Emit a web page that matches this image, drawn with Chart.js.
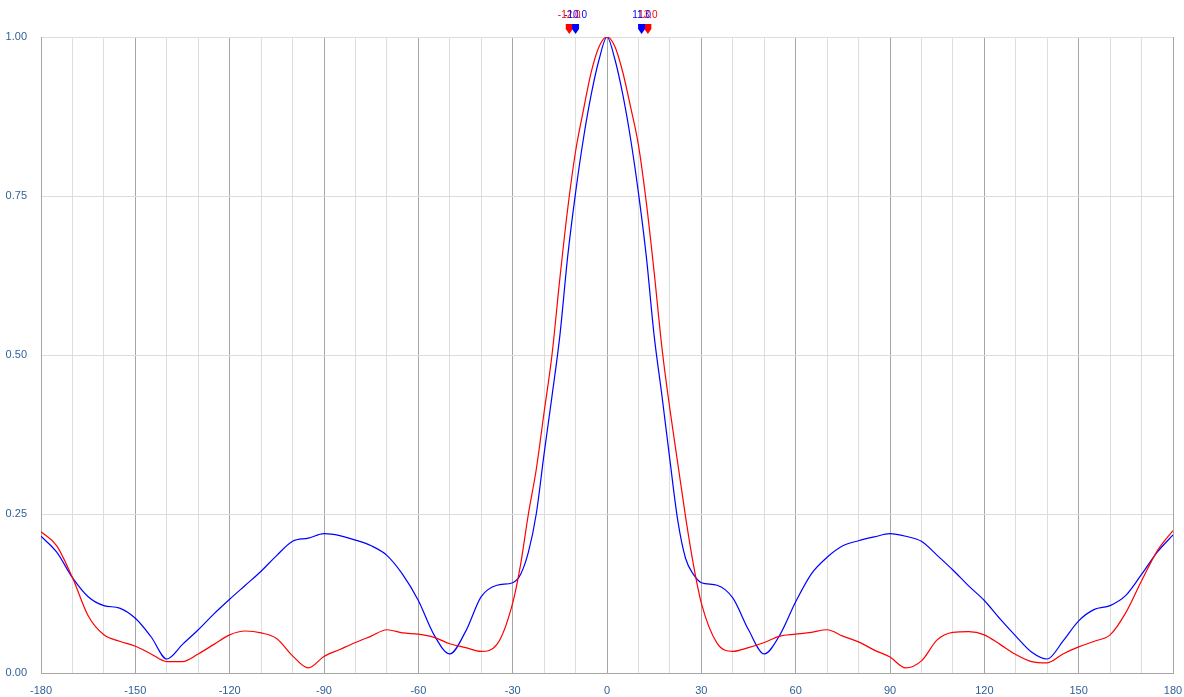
<!DOCTYPE html>
<html>
<head>
<meta charset="utf-8">
<script src="https://cdn.jsdelivr.net/npm/chart.js@4"></script>
<style>
  html, body { margin: 0; padding: 0; background: #fff; }
  #wrap { width: 1184px; height: 697px; }
</style>
</head>
<body>
<div id="wrap"><canvas id="beamChart" width="1184" height="697"></canvas></div>
<script>
// angles in degrees (finer step around the main lobe)
const angles = [
  -180, -175, -170, -165, -160, -155, -150, -145, -140, -135, -130, -125, -120, -115, -110, -105,
  -100, -95, -90, -85, -80, -75, -70, -65, -60, -55, -50, -45, -40, -35,
  -30, -27.5, -25, -22.5, -20, -17.5, -15, -12.5, -10, -7.5, -5, -2.5, 0,
  2.5, 5, 7.5, 10, 12.5, 15, 17.5, 20, 22.5, 25, 27.5, 30,
  35, 40, 45, 50, 55, 60, 65, 70, 75, 80, 85, 90, 95, 100,
  105, 110, 115, 120, 125, 130, 135, 140, 145, 150, 155, 160, 165, 170, 175, 180
];

const blueValues = [
  0.215, 0.190, 0.150, 0.120, 0.106, 0.102, 0.086, 0.057, 0.022, 0.045, 0.068, 0.093, 0.116, 0.138, 0.160, 0.185,
  0.207, 0.212, 0.219, 0.216, 0.209, 0.200, 0.185, 0.155, 0.114, 0.060, 0.030, 0.065, 0.120, 0.138,
  0.142, 0.155, 0.190, 0.250, 0.345, 0.435, 0.530, 0.655, 0.755, 0.840, 0.910, 0.965, 1.000,
  0.965, 0.910, 0.840, 0.755, 0.655, 0.530, 0.435, 0.335, 0.240, 0.180, 0.155, 0.142,
  0.138, 0.118, 0.068, 0.030, 0.060, 0.112, 0.156, 0.182, 0.200, 0.208, 0.214, 0.219, 0.215, 0.207,
  0.185, 0.162, 0.137, 0.114, 0.085, 0.058, 0.033, 0.022, 0.050, 0.082, 0.100, 0.106, 0.122, 0.155, 0.190, 0.217
];

const redValues = [
  0.222, 0.200, 0.150, 0.090, 0.060, 0.050, 0.042, 0.030, 0.018, 0.018, 0.030, 0.045, 0.060, 0.066, 0.063, 0.054,
  0.027, 0.008, 0.026, 0.037, 0.048, 0.058, 0.068, 0.063, 0.061, 0.056, 0.046, 0.040, 0.034, 0.045,
  0.110, 0.170, 0.250, 0.320, 0.410, 0.500, 0.620, 0.730, 0.820, 0.885, 0.945, 0.985, 1.000,
  0.985, 0.945, 0.890, 0.830, 0.740, 0.630, 0.510, 0.415, 0.330, 0.245, 0.170, 0.110,
  0.047, 0.034, 0.040, 0.048, 0.058, 0.061, 0.064, 0.068, 0.058, 0.049, 0.036, 0.025, 0.008, 0.019,
  0.052, 0.064, 0.065, 0.060, 0.045, 0.029, 0.018, 0.016, 0.030, 0.041, 0.050, 0.060, 0.095, 0.145, 0.192, 0.224
];

// beamwidth markers along the top edge
const blueMarkers = [-10, 11];
const redMarkers = [-12, 13];
const blueMarkerLabels = ['-10.0', '11.0'];
const redMarkerLabels = ['-12.0', '13.0'];

const yTicks = [0, 0.25, 0.5, 0.75, 1];

function toPoints(values) {
  return angles.map((a, i) => ({ x: a, y: values[i] }));
}

// draws the little pin markers and their labels above the plot
const markerPlugin = {
  id: 'markers',
  afterDraw(chart) {
    const ctx = chart.ctx;
    const xs = chart.scales.x;
    const top = chart.chartArea.top;
    const drawSet = (list, labels, color) => {
      list.forEach((v, i) => {
        const px = xs.getPixelForValue(v);
        ctx.save();
        ctx.fillStyle = color;
        ctx.beginPath();
        ctx.moveTo(px - 3.5, top - 13);
        ctx.lineTo(px + 3.5, top - 13);
        ctx.lineTo(px + 3.5, top - 8);
        ctx.lineTo(px, top - 3);
        ctx.lineTo(px - 3.5, top - 8);
        ctx.closePath();
        ctx.fill();
        ctx.font = '10px "Liberation Sans", Arial, sans-serif';
        ctx.textAlign = 'center';
        ctx.textBaseline = 'middle';
        ctx.fillText(labels[i], px, top - 22);
        ctx.restore();
      });
    };
    drawSet(redMarkers, redMarkerLabels, '#ff0000');
    drawSet(blueMarkers, blueMarkerLabels, '#0000ff');
  }
};

const ctx = document.getElementById('beamChart').getContext('2d');
new Chart(ctx, {
  type: 'line',
  data: {
    datasets: [{
      label: 'Red',
      data: toPoints(redValues),
      borderColor: '#ff0000',
      borderWidth: 1.2,
      pointRadius: 0,
      cubicInterpolationMode: 'monotone',
      fill: false
    }, {
      label: 'Blue',
      data: toPoints(blueValues),
      borderColor: '#0000ff',
      borderWidth: 1.2,
      pointRadius: 0,
      cubicInterpolationMode: 'monotone',
      fill: false
    }]
  },
  options: {
    responsive: false,
    animation: false,
    layout: { padding: { top: 37, right: 11, left: 0, bottom: 0 } },
    plugins: {
      legend: { display: false },
      tooltip: { enabled: false }
    },
    scales: {
      x: {
        type: 'linear',
        min: -180,
        max: 180,
        afterFit: (scale) => {
          scale.height = 24;
          scale.paddingLeft = 0;
          scale.paddingRight = 0;
        },
        ticks: {
          stepSize: 10,
          autoSkip: false,
          maxRotation: 0,
          padding: 11,
          color: '#2f5f9a',
          font: { family: '"Liberation Sans", Arial, sans-serif', size: 11 },
          callback: (v) => (v % 30 === 0 ? String(v) : '')
        },
        grid: {
          color: (c) => (c.tick && c.tick.value % 30 === 0 ? '#a6a6a6' : '#dedede'),
          lineWidth: 1,
          drawTicks: false
        },
        border: { color: '#a6a6a6' }
      },
      y: {
        min: 0,
        max: 1,
        afterFit: (scale) => { scale.width = 41; },
        afterBuildTicks: (scale) => { scale.ticks = yTicks.map(v => ({ value: v })); },
        ticks: {
          padding: 14,
          color: '#2f5f9a',
          font: { family: '"Liberation Sans", Arial, sans-serif', size: 11 },
          callback: (v) => Number(v).toFixed(2)
        },
        grid: {
          color: '#dcdcdc',
          drawTicks: false
        },
        border: { color: '#a6a6a6' }
      }
    }
  },
  plugins: [markerPlugin]
});
</script>
</body>
</html>
